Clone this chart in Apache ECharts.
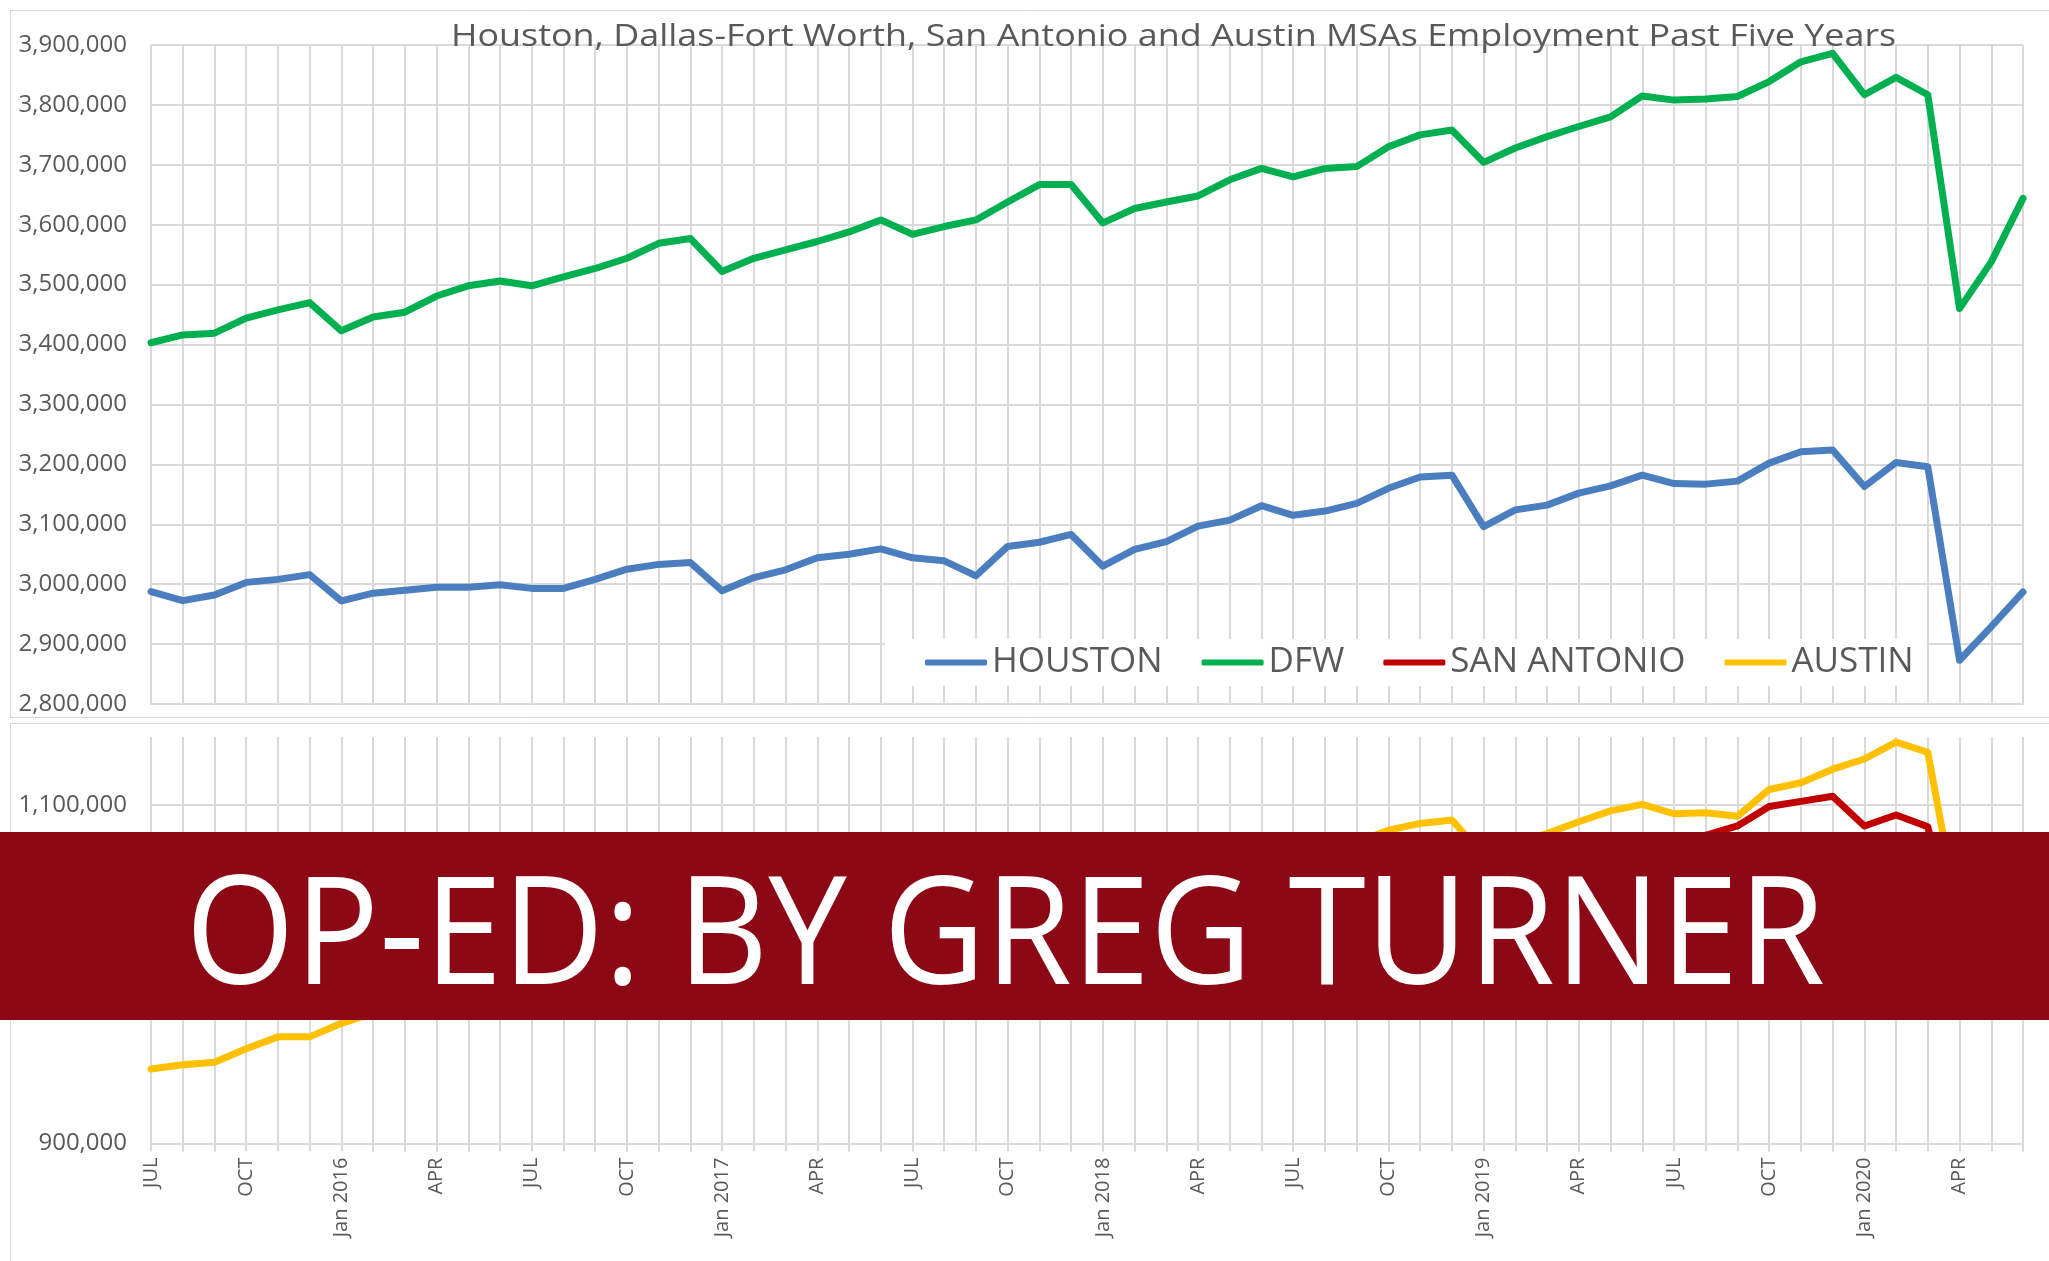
<!DOCTYPE html>
<html><head><meta charset="utf-8">
<script src="https://cdn.jsdelivr.net/npm/echarts@6/dist/echarts.min.js"></script>
<style>html,body{margin:0;padding:0;background:#fff}#c{width:2049px;height:1261px}</style>
</head><body><div id="c"></div>
<script>
// ---- data ----
const months = [
  'JUL','AUG','SEP','OCT','NOV','DEC',
  'Jan 2016','FEB','MAR','APR','MAY','JUN','JUL','AUG','SEP','OCT','NOV','DEC',
  'Jan 2017','FEB','MAR','APR','MAY','JUN','JUL','AUG','SEP','OCT','NOV','DEC',
  'Jan 2018','FEB','MAR','APR','MAY','JUN','JUL','AUG','SEP','OCT','NOV','DEC',
  'Jan 2019','FEB','MAR','APR','MAY','JUN','JUL','AUG','SEP','OCT','NOV','DEC',
  'Jan 2020','FEB','MAR','APR','MAY','JUN'
];
const houston = [
  2987500,2972500,2982000,3003000,3008000,3016000,
  2972000,2985000,2990000,2995000,2995000,2999000,2993000,2993000,3008000,3025000,3033000,3036000,
  2989000,3011000,3024000,3044000,3050000,3059000,3044000,3039000,3014000,3063000,3070000,3083000,
  3030000,3058000,3071000,3097000,3107000,3131000,3115000,3122000,3135000,3160000,3179000,3182000,
  3096000,3124000,3132000,3152000,3164000,3182000,3168000,3167000,3172000,3202000,3221000,3224000,
  3163000,3203000,3196000,2873000,2929000,2987000
];
const dfw = [
  3403000,3416000,3419000,3444000,3458000,3470000,
  3423000,3446000,3454000,3481000,3498000,3506000,3498000,3513000,3527000,3544000,3569000,3577000,
  3522000,3544000,3558000,3572000,3588000,3608000,3584000,3597000,3608000,3638000,3667000,3667000,
  3603000,3627000,3638000,3648000,3675000,3694000,3680000,3694000,3697000,3730000,3750000,3758000,
  3704000,3728000,3747000,3764000,3780000,3815000,3808000,3810000,3814000,3839000,3872000,3886000,
  3817000,3846000,3817000,3460000,3538000,3644000
];
const sanAntonio = [
  1010000,1012000,1014000,1018000,1021000,1023000,
  1010000,1015000,1019000,1023000,1026000,1028000,1024000,1027000,1031000,1035000,1038000,1040000,
  1028000,1033000,1037000,1041000,1044000,1047000,1042000,1046000,1049000,1053000,1056000,1058000,
  1046000,1051000,1055000,1059000,1063000,1066000,1061000,1064000,1067000,1072000,1075000,1078000,
  1064000,1068000,1071000,1075000,1077000,1079000,1078000,1082000,1087500,1099000,1102000,1105000,
  1087500,1094000,1087000,1010000,1030000,1045000
];
const austin = [
  944000,946500,948000,956000,963000,963000,
  971000,977000,981000,986000,991000,996000,992000,995000,1000000,1007000,1012000,1014000,
  1002000,1008000,1013000,1018000,1024000,1029000,1022000,1026000,1030000,1038000,1044000,1046000,
  1035000,1043000,1049000,1055000,1062000,1068000,1063000,1070000,1078000,1085000,1089000,1091000,
  1070000,1078000,1083000,1090000,1096400,1100200,1094700,1095300,1093200,1109000,1113000,1121000,
  1127000,1137000,1131000,1030000,1045000,1062000
];
const seriesNames = ['HOUSTON','DFW','SAN ANTONIO','AUSTIN'];
const chartTitle = 'Houston, Dallas-Fort Worth, San Antonio and Austin MSAs Employment Past Five Years';
const bannerText = 'OP-ED: BY GREG TURNER';

// ---- style ----
const FONT = '"Open Sans", "Noto Sans", sans-serif';
const TXT = '#595959';
const GRID = '#d9d9d9';
const colors = {HOUSTON:'#4a7ebf', DFW:'#00b050', 'SAN ANTONIO':'#c00000', AUSTIN:'#ffc000'};
const fmt = v => Math.round(v).toLocaleString('en-US');

const chart = echarts.init(document.getElementById('c'), null, {renderer:'canvas'});

function mkSeries(name, data, idx) {
  return {
    name, type:'line', data, xAxisIndex: idx, yAxisIndex: idx,
    symbol:'none', smooth:false,
    lineStyle:{color:colors[name], width:7, cap:'round', join:'round'},
    itemStyle:{color:colors[name]}, z: 3
  };
}

const option = {
  animation:false,
  backgroundColor:'#fff',
  legend:{
    data: seriesNames, left: 885, top: 639,
    backgroundColor:'#fff', padding:[6,13,6,40],
    itemGap: 39, itemWidth: 62, itemHeight: 6, icon:'roundRect',
    textStyle:{fontFamily:FONT, fontSize:35, color:TXT}
  },
  grid:[
    {left:151, right:26, top:45, height:659},
    {left:151, right:26, top:737, height:406.6}
  ],
  xAxis:[
    {gridIndex:0, type:'category', data:months, boundaryGap:false,
     axisLine:{show:true, lineStyle:{color:GRID, width:2}},
     axisTick:{show:false}, axisLabel:{show:false},
     splitLine:{show:true, interval:0, lineStyle:{color:GRID, width:2}}},
    {gridIndex:1, type:'category', data:months, boundaryGap:false,
     axisLine:{show:true, lineStyle:{color:GRID, width:2}},
     axisTick:{show:true, interval:0, length:8, lineStyle:{color:GRID, width:2}},
     axisLabel:{show:true, interval:2, rotate:90, margin:14, fontFamily:FONT, fontSize:20, color:TXT},
     splitLine:{show:true, interval:0, lineStyle:{color:GRID, width:2}}}
  ],
  yAxis:[
    {gridIndex:0, type:'value', min:2800000, max:3900000, interval:100000,
     axisLine:{show:false}, axisTick:{show:false},
     axisLabel:{formatter:fmt, margin:24, fontFamily:FONT, fontSize:24, color:TXT},
     splitLine:{show:true, lineStyle:{color:GRID, width:2}}},
    {gridIndex:1, type:'value', min:900000, max:1140000, interval:100000,
     axisLine:{show:false}, axisTick:{show:false},
     axisLabel:{formatter:fmt, margin:24, fontFamily:FONT, fontSize:24, color:TXT, showMaxLabel:false},
     splitLine:{show:true, showMaxLine:false, lineStyle:{color:GRID, width:2}}}
  ],
  series:[
    mkSeries('HOUSTON', houston, 0),
    mkSeries('DFW', dfw, 0),
    mkSeries('SAN ANTONIO', sanAntonio, 1),
    mkSeries('AUSTIN', austin, 1)
  ],
  graphic:[
    {type:'rect', silent:true, z:-10, shape:{x:10.5, y:10.5, width:2100, height:707}, style:{fill:'none', stroke:GRID, lineWidth:1}},
    {type:'rect', silent:true, z:-10, shape:{x:10.5, y:723.5, width:2100, height:700}, style:{fill:'none', stroke:GRID, lineWidth:1}},
    {type:'text', silent:true, z:50, x:451, y:37.5, scaleX:1.158,
     style:{text:chartTitle, font:'31px "Open Sans"', fill:TXT, textVerticalAlign:'middle', textAlign:'left'}},
    {type:'rect', silent:true, z:100, shape:{x:0, y:832, width:2049, height:188}, style:{fill:'#8c0815'}},
    {type:'text', silent:true, z:101, x:185.5, y:941, scaleX:0.936,
     style:{text:bannerText, font:'150px "Open Sans"', fill:'#ffffff', textVerticalAlign:'middle', textAlign:'left'}}
  ]
};
chart.setOption(option);
</script>
</body></html>
